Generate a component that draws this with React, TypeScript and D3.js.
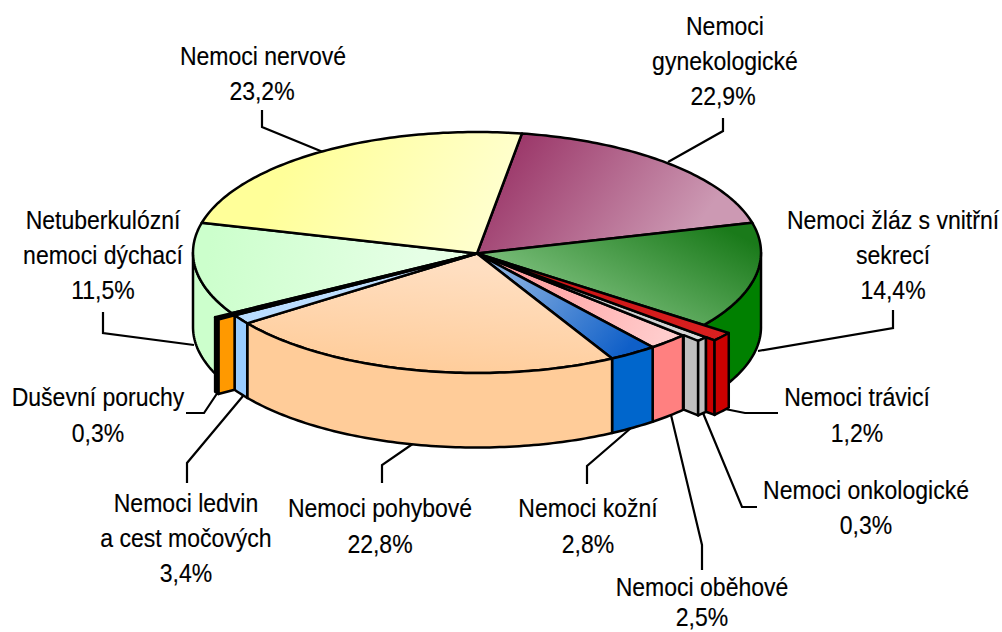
import React from "react";
import * as d3 from "d3";

// ---- data ----
const categories = [
  "Nemoci gynekologické", "Nemoci žláz s vnitřní sekrecí", "Nemoci trávicí", "Nemoci onkologické",
  "Nemoci oběhové", "Nemoci kožní", "Nemoci pohybové", "Nemoci ledvin a cest močových",
  "Duševní poruchy", "Netuberkulózní nemoci dýchací", "Nemoci nervové",
];
// printed percentages
const printedValues = ["22,9%", "14,4%", "1,2%", "0,3%", "2,5%", "2,8%", "22,8%", "3,4%", "0,3%", "11,5%", "23,2%"];
// widths of the wedges as drawn (degrees round the rim)
const drawnDegrees = [66.6, 51.3, 4.1, 2.4, 8.3, 9.8, 82.4, 4.6, 1.2, 44.5, 84.8];
// how far each wedge reaches past the rim
const reach = [1, 1, 1.11, 1.07, 1, 1, 1, 1, 1.067, 1, 1];
const wallColors = ["#993366", "#008000", "#cc0000", "#c0c0c0", "#ff8080", "#0066cc", "#ffcc99", "#99ccff", "#ff9900", "#ccffcc", "#ffff99"];
const topColorsA = ["#993366", "#1a7a1a", "#c81010", "#c0c0c0", "#ff9898", "#0f5fc8", "#ffcc99", "#b8dcff", "#000000", "#ccffcc", "#ffff99"];
const topColorsB = ["#cc99b3", "#72b872", "#d82020", "#d8d8d8", "#ffcccc", "#85aee0", "#ffdfc2", "#c4e2ff", "#000000", "#e6ffe6", "#ffffcc"];
const gradientEnds = [
  [505, 140, 670, 262], [700, 215, 640, 330], [480, 254, 720, 335], [480, 254, 700, 340],
  [500, 262, 660, 340], [625, 352, 515, 262], [420, 375, 430, 262], [240, 320, 470, 255],
  [220, 320, 470, 255], [210, 240, 420, 270], [290, 160, 470, 250],
];

type LabelLine = [string, number, number];
const labelLines: LabelLine[] = [
  ["Nemoci nervové", 263, 65], ["23,2%", 262, 100],
  ["Nemoci", 725, 35], ["gynekologické", 725, 70], ["22,9%", 723, 105],
  ["Nemoci žláz s vnitřní", 893, 229], ["sekrecí", 893, 264], ["14,4%", 893, 299],
  ["Nemoci trávicí", 857, 406], ["1,2%", 857, 442],
  ["Nemoci onkologické", 866, 499], ["0,3%", 866, 534],
  ["Nemoci oběhové", 702, 596], ["2,5%", 702, 626],
  ["Nemoci kožní", 588, 517], ["2,8%", 588, 553],
  ["Nemoci pohybové", 380, 517], ["22,8%", 380, 553],
  ["Nemoci ledvin", 186, 512], ["a cest močových", 186, 547], ["3,4%", 186, 582],
  ["Duševní poruchy", 98, 406], ["0,3%", 98, 442],
  ["Netuberkulózní", 103, 229], ["nemoci dýchací", 103, 264], ["11,5%", 103, 299],
];
const leaders: [number, number][][] = [
  [[262, 110], [262, 127], [323, 152]],
  [[723, 118], [723, 131], [668, 162]],
  [[893, 310], [893, 328], [758, 351]],
  [[778, 413], [745, 413], [720, 408]],
  [[757, 507], [742, 507], [703, 413]],
  [[702, 570], [702, 545], [671, 415]],
  [[587, 484], [587, 466], [631, 428]],
  [[382, 483], [382, 465], [414, 443]],
  [[187, 483], [187, 463], [243, 396]],
  [[186, 413], [204, 413], [218, 392]],
  [[103, 312], [103, 333], [194, 345]],
];

// ---- geometry ----
const rad = Math.PI / 180;
const cx = 477, cy = 252.5, rx = 284, ry = 120.5, depth = 74.5;
const xS = d3.scaleLinear().domain([-1, 1]).range([cx - rx, cx + rx]);
const yS = d3.scaleLinear().domain([-1, 1]).range([cy - ry, cy + ry]);
const pt = (deg: number, r = 1, d = 0): [number, number] => [xS(r * Math.sin(deg * rad)), yS(-r * Math.cos(deg * rad)) + d];
const line = d3.line();
const arcPts = (a: number, b: number, r = 1, d = 0) => {
  const n = Math.max(2, Math.ceil(Math.abs(b - a)));
  return d3.range(n + 1).map((i) => pt(a + ((b - a) * i) / n, r, d));
};

const pie = d3.pie<number>().sort(null).startAngle(9.1 * rad).endAngle((9.1 + 360) * rad)(drawnDegrees);
const spans = pie.map((s) => ({ a: s.startAngle / rad, b: s.endAngle / rad }));

const topPath = (i: number) => line([[cx, cy + 1], ...arcPts(spans[i].a, spans[i].b, reach[i])])! + "Z";
const wallPath = (a: number, b: number, r = 1) => line([...arcPts(a, b, r), ...arcPts(b, a, r, depth)])! + "Z";
const cutPath = (deg: number, r0: number, r1: number) =>
  line([pt(deg, r0), pt(deg, r1), pt(deg, r1, depth), pt(deg, r0, depth)])! + "Z";

const stroke = { stroke: "#000", strokeWidth: 2.5, strokeLinejoin: "round" as const };

export default function App() {
  const G = 0, GR = 1, RED = 2, GREY = 3, PINK = 4, BLUE = 5, PEACH = 6, LB = 7, OR = 8, LG = 9, NV = 10;
  const drawOrderTop = [G, GR, LG, NV, PINK, BLUE, PEACH, LB, GREY, RED, OR];
  return (
    <svg width={1002} height={632} style={{ position: "absolute", left: 0, top: 0, display: "block", background: "#fff" }}>
      <defs>
        {categories.map((_, i) => (
          <linearGradient key={i} id={`g${i}`} gradientUnits="userSpaceOnUse"
            x1={gradientEnds[i][0]} y1={gradientEnds[i][1]} x2={gradientEnds[i][2]} y2={gradientEnds[i][3]}>
            <stop offset="0" stopColor={topColorsA[i]} />
            <stop offset="1" stopColor={topColorsB[i]} />
          </linearGradient>
        ))}
      </defs>

      {/* leader lines */}
      <g fill="none" stroke="#000" strokeWidth={2.2}>
        {leaders.map((l, i) => <path key={i} d={line(l)!} />)}
      </g>

      {/* outer walls at the back */}
      <path d={wallPath(90, spans[GR].b)} fill={wallColors[GR]} {...stroke} />
      <path d={wallPath(spans[LG].a, 270)} fill={wallColors[LG]} {...stroke} />

      {/* top faces */}
      {drawOrderTop.map((i) => <path key={i} d={topPath(i)} fill={`url(#g${i})`} {...stroke} />)}

      {/* front walls */}
      {[PINK, BLUE, PEACH, LB].map((i) => (
        <path key={i} d={wallPath(spans[i].a, spans[i].b)} fill={wallColors[i]} {...stroke} />
      ))}
      <path d={cutPath(spans[GREY].b - 0.2, 1, reach[GREY])} fill={wallColors[GREY]} {...stroke} />
      <path d={wallPath(spans[RED].b, spans[GREY].b - 0.2, reach[GREY])} fill={wallColors[GREY]} {...stroke} />
      <path d={cutPath(spans[RED].b, reach[GREY], reach[RED])} fill={wallColors[RED]} {...stroke} />
      <path d={wallPath(spans[RED].a, spans[RED].b, reach[RED])} fill={wallColors[RED]} {...stroke} />
      <path d={cutPath(spans[OR].a, 1, reach[OR])} fill={wallColors[OR]} {...stroke} />
      <path d={wallPath(spans[OR].a, spans[OR].b, reach[OR])} fill="#000" {...stroke} />

      {/* labels */}
      <g fontFamily="'Liberation Sans', Arial, sans-serif" fontSize={26} textAnchor="middle" fill="#000" stroke="#000" strokeWidth={0.15}>
        {labelLines.map(([t, x, y], i) => (
          <text key={i} transform={`translate(${x},${y}) scale(0.885,1)`}>{t}</text>
        ))}
      </g>
      <title>{categories.map((c, i) => `${c}: ${printedValues[i]}`).join("; ")}</title>
    </svg>
  );
}
